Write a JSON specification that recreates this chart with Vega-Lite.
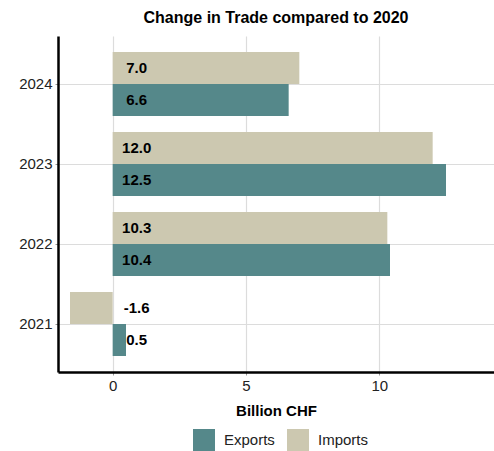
{
  "$schema": "https://vega.github.io/schema/vega-lite/v6.json",
  "autosize": {"type": "none"},
  "padding": {"left": 58, "top": 36, "right": 0, "bottom": 79},
  "width": 436,
  "height": 336,
  "background": "white",
  "title": {"text": "Change in Trade compared to 2020", "font": "Liberation Sans", "fontSize": 16, "fontWeight": "bold", "color": "black", "anchor": "middle", "offset": 10},
  "config": {
    "font": "Liberation Sans",
    "view": {"stroke": null},
    "axis": {"labelFont": "Liberation Sans", "titleFont": "Liberation Sans"},
    "legend": {"labelFont": "Liberation Sans"}
  },
  "data": {"values": [
    {"year": "2024", "type": "Imports", "value": 7.0},
    {"year": "2024", "type": "Exports", "value": 6.6},
    {"year": "2023", "type": "Imports", "value": 12.0},
    {"year": "2023", "type": "Exports", "value": 12.5},
    {"year": "2022", "type": "Imports", "value": 10.3},
    {"year": "2022", "type": "Exports", "value": 10.4},
    {"year": "2021", "type": "Imports", "value": -1.6},
    {"year": "2021", "type": "Exports", "value": 0.5}
  ]},
  "transform": [
    {"calculate": "replace(format(datum.value, '.1f'), '\u2212', '-')", "as": "label"}
  ],
  "encoding": {
    "y": {"field": "year", "type": "nominal", "sort": ["2024", "2023", "2022", "2021"],
      "scale": {"paddingInner": 0.2, "paddingOuter": 0.2},
      "axis": {"title": null, "labelFontSize": 15, "labelColor": "#222", "domainColor": "black", "domainWidth": 2.5, "tickColor": "#999", "tickSize": 3, "labelPadding": 3, "gridColor": "#dcdcdc", "gridWidth": 1.2, "grid": true}},
    "yOffset": {"field": "type", "type": "nominal", "sort": ["Imports", "Exports"]}
  },
  "layer": [
    {
      "mark": {"type": "bar"},
      "encoding": {
        "x": {"field": "value", "type": "quantitative",
          "scale": {"domain": [-2.05, 14.3], "nice": false, "zero": false},
          "axis": {"title": "Billion CHF", "titleFontSize": 15, "titleFontWeight": "bold", "titleColor": "black", "titlePadding": 10, "labelFontSize": 15, "labelColor": "#222", "values": [0, 5, 10], "domainColor": "black", "domainWidth": 2.5, "tickColor": "#999", "tickSize": 3, "labelPadding": 3, "gridColor": "#dcdcdc", "gridWidth": 1.2}},
        "color": {"field": "type", "type": "nominal", "sort": ["Exports", "Imports"],
          "scale": {"domain": ["Exports", "Imports"], "range": ["#55888A", "#CCC8B0"]},
          "legend": {"title": null, "orient": "none", "legendX": 135, "legendY": 393, "direction": "horizontal", "symbolType": "square", "symbolSize": 484, "symbolStrokeWidth": 0, "symbolOpacity": 1, "labelFontSize": 15, "labelColor": "#222", "columnPadding": 12, "labelOffset": 9}}
      }
    },
    {
      "mark": {"type": "text", "align": "center", "dx": 24, "fontSize": 15, "fontWeight": "bold", "color": "black", "font": "Liberation Sans"},
      "encoding": {
        "x": {"datum": 0, "type": "quantitative"},
        "text": {"field": "label", "type": "nominal"}
      }
    }
  ]
}
